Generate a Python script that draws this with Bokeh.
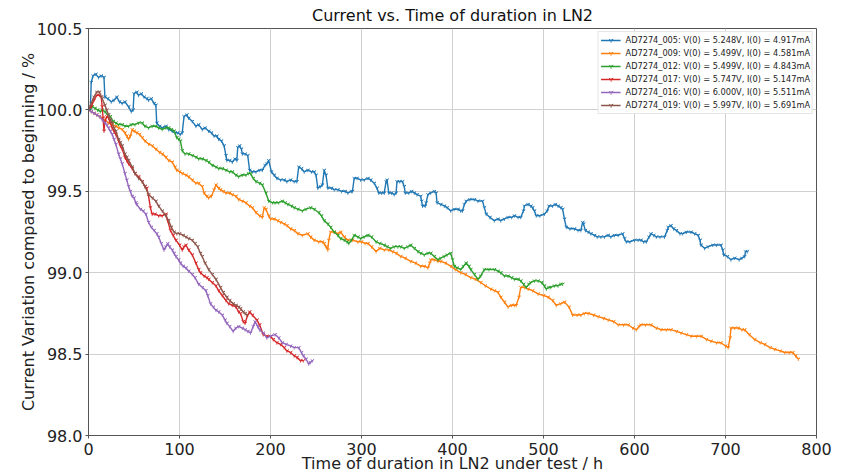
from bokeh.plotting import figure
from bokeh.models import Range1d, SingleIntervalTicker, NumeralTickFormatter, Legend
from bokeh.embed import file_html
from bokeh.resources import INLINE

labels = [
    "AD7274_005: V(0) = 5.248V, I(0) = 4.917mA",
    "AD7274_009: V(0) = 5.499V, I(0) = 4.581mA",
    "AD7274_012: V(0) = 5.499V, I(0) = 4.843mA",
    "AD7274_017: V(0) = 5.747V, I(0) = 5.147mA",
    "AD7274_016: V(0) = 6.000V, I(0) = 5.511mA",
    "AD7274_019: V(0) = 5.997V, I(0) = 5.691mA",
]
colors = ["#1f77b4", "#ff7f0e", "#2ca02c", "#d62728", "#9467bd", "#8c564b"]
title_text = "Current vs. Time of duration in LN2"
x_label_text = "Time of duration in LN2 under test / h"
y_label_text = "Current Variation compared to beginning / %"

t_005 = [0, 2, 3, 5, 8, 11, 14, 17, 18, 21, 25, 28, 31, 34, 37, 40, 44, 47, 49, 50, 53, 55, 58, 61, 64, 66, 69, 72, 74, 75, 78, 81, 85, 88, 92, 95, 98, 101, 103, 105, 108, 110, 114, 118, 121, 125, 128, 132, 135, 138, 141, 143, 146, 149, 151, 152, 155, 158, 161, 163, 164, 166, 168, 169, 172, 175, 177, 180, 184, 188, 191, 194, 196, 198, 201, 204, 207, 211, 215, 218, 222, 226, 229, 231, 234, 237, 241, 245, 248, 250, 252, 255, 257, 259, 261, 263, 267, 270, 274, 278, 282, 285, 289, 290, 292, 295, 299, 303, 307, 310, 314, 317, 319, 322, 325, 327, 328, 330, 333, 336, 338, 339, 342, 345, 347, 348, 352, 355, 358, 361, 365, 366, 367, 370, 371, 373, 376, 380, 382, 383, 387, 391, 394, 398, 402, 406, 409, 411, 413, 415, 419, 424, 428, 433, 435, 437, 441, 446, 450, 453, 457, 461, 465, 468, 472, 475, 478, 479, 483, 486, 488, 490, 492, 496, 501, 504, 506, 510, 513, 516, 519, 521, 523, 525, 529, 534, 538, 541, 543, 544, 546, 549, 552, 556, 559, 563, 567, 571, 574, 578, 582, 587, 589, 591, 595, 600, 604, 607, 610, 613, 616, 618, 621, 624, 628, 633, 636, 637, 640, 643, 646, 650, 653, 657, 662, 666, 670, 672, 673, 677, 681, 686, 690, 695, 697, 698, 702, 706, 710, 715, 718, 721, 722, 724]
v_005 = [100.00, 100.00, 100.17, 100.21, 100.22, 100.20, 100.21, 100.20, 100.08, 100.07, 100.05, 100.06, 100.08, 100.05, 100.04, 100.05, 100.02, 99.99, 100.00, 100.10, 100.11, 100.09, 100.10, 100.08, 100.07, 100.06, 100.07, 100.04, 100.03, 99.92, 99.90, 99.89, 99.90, 99.88, 99.87, 99.86, 99.86, 99.85, 99.86, 99.96, 99.97, 99.95, 99.93, 99.90, 99.91, 99.88, 99.89, 99.87, 99.86, 99.84, 99.84, 99.82, 99.81, 99.78, 99.72, 99.69, 99.69, 99.68, 99.70, 99.69, 99.77, 99.78, 99.76, 99.73, 99.73, 99.72, 99.63, 99.62, 99.62, 99.63, 99.63, 99.66, 99.67, 99.69, 99.62, 99.60, 99.58, 99.57, 99.57, 99.56, 99.57, 99.56, 99.56, 99.65, 99.64, 99.62, 99.63, 99.62, 99.62, 99.60, 99.52, 99.53, 99.54, 99.63, 99.60, 99.52, 99.52, 99.51, 99.51, 99.50, 99.50, 99.49, 99.50, 99.50, 99.58, 99.58, 99.57, 99.57, 99.58, 99.57, 99.55, 99.52, 99.49, 99.49, 99.49, 99.56, 99.57, 99.49, 99.49, 99.48, 99.49, 99.56, 99.56, 99.56, 99.53, 99.49, 99.49, 99.50, 99.49, 99.48, 99.47, 99.44, 99.41, 99.41, 99.43, 99.48, 99.49, 99.50, 99.49, 99.43, 99.42, 99.41, 99.40, 99.38, 99.39, 99.39, 99.38, 99.38, 99.42, 99.44, 99.45, 99.45, 99.44, 99.44, 99.40, 99.36, 99.34, 99.32, 99.33, 99.32, 99.33, 99.34, 99.34, 99.35, 99.34, 99.34, 99.38, 99.41, 99.42, 99.41, 99.40, 99.38, 99.35, 99.35, 99.36, 99.38, 99.41, 99.41, 99.42, 99.41, 99.40, 99.39, 99.33, 99.28, 99.27, 99.27, 99.26, 99.26, 99.31, 99.30, 99.26, 99.25, 99.24, 99.23, 99.22, 99.22, 99.22, 99.23, 99.22, 99.23, 99.23, 99.24, 99.21, 99.19, 99.19, 99.20, 99.20, 99.20, 99.19, 99.19, 99.22, 99.24, 99.23, 99.22, 99.22, 99.22, 99.26, 99.28, 99.29, 99.27, 99.26, 99.24, 99.24, 99.25, 99.25, 99.24, 99.23, 99.20, 99.17, 99.15, 99.16, 99.17, 99.17, 99.17, 99.14, 99.11, 99.10, 99.08, 99.09, 99.08, 99.09, 99.10, 99.13, 99.13]

t_009 = [0, 3, 6, 9, 12, 15, 18, 22, 26, 30, 33, 37, 40, 42, 44, 46, 48, 50, 53, 56, 59, 62, 66, 70, 74, 78, 81, 85, 88, 92, 95, 97, 100, 103, 107, 110, 114, 118, 121, 125, 127, 130, 132, 135, 138, 140, 143, 145, 148, 151, 155, 158, 162, 165, 169, 173, 177, 180, 184, 188, 191, 193, 195, 198, 200, 204, 208, 211, 215, 218, 222, 226, 230, 235, 241, 244, 248, 253, 257, 259, 261, 263, 264, 266, 270, 274, 277, 281, 285, 290, 296, 300, 304, 307, 311, 316, 320, 325, 330, 334, 338, 343, 348, 354, 359, 365, 369, 373, 375, 376, 380, 384, 387, 392, 398, 403, 409, 414, 420, 425, 431, 436, 442, 446, 450, 453, 457, 461, 465, 468, 470, 473, 475, 479, 483, 488, 494, 500, 505, 510, 514, 519, 523, 528, 532, 537, 541, 545, 549, 555, 560, 566, 571, 577, 582, 588, 593, 598, 602, 605, 607, 612, 618, 624, 629, 635, 640, 646, 651, 657, 662, 668, 673, 679, 684, 690, 695, 700, 703, 705, 706, 710, 714, 718, 721, 726, 732, 738, 743, 749, 754, 760, 765, 770, 774, 777, 780]
v_009 = [100.00, 99.99, 99.98, 99.97, 99.96, 99.95, 99.94, 99.92, 99.91, 99.90, 99.89, 99.88, 99.86, 99.84, 99.82, 99.84, 99.88, 99.87, 99.86, 99.85, 99.83, 99.81, 99.79, 99.78, 99.76, 99.74, 99.73, 99.71, 99.69, 99.68, 99.65, 99.63, 99.62, 99.61, 99.60, 99.59, 99.57, 99.55, 99.55, 99.53, 99.49, 99.47, 99.46, 99.47, 99.51, 99.54, 99.52, 99.51, 99.50, 99.49, 99.49, 99.48, 99.47, 99.45, 99.44, 99.43, 99.41, 99.40, 99.37, 99.35, 99.34, 99.40, 99.39, 99.35, 99.33, 99.33, 99.32, 99.31, 99.30, 99.29, 99.27, 99.26, 99.24, 99.23, 99.24, 99.22, 99.20, 99.19, 99.19, 99.18, 99.16, 99.14, 99.20, 99.25, 99.25, 99.24, 99.25, 99.22, 99.20, 99.20, 99.19, 99.19, 99.18, 99.18, 99.16, 99.13, 99.15, 99.14, 99.14, 99.13, 99.12, 99.10, 99.09, 99.07, 99.06, 99.04, 99.04, 99.03, 99.06, 99.08, 99.08, 99.07, 99.07, 99.06, 99.04, 99.02, 99.00, 98.99, 98.97, 98.96, 98.94, 98.92, 98.90, 98.89, 98.88, 98.85, 98.82, 98.79, 98.80, 98.80, 98.80, 98.85, 98.91, 98.91, 98.90, 98.89, 98.87, 98.86, 98.85, 98.83, 98.80, 98.81, 98.82, 98.79, 98.74, 98.74, 98.74, 98.75, 98.75, 98.74, 98.73, 98.72, 98.71, 98.70, 98.68, 98.68, 98.68, 98.66, 98.65, 98.67, 98.68, 98.68, 98.68, 98.66, 98.65, 98.65, 98.65, 98.64, 98.63, 98.62, 98.61, 98.61, 98.61, 98.59, 98.58, 98.57, 98.57, 98.55, 98.54, 98.60, 98.66, 98.66, 98.66, 98.65, 98.65, 98.62, 98.59, 98.57, 98.56, 98.54, 98.53, 98.52, 98.51, 98.51, 98.51, 98.49, 98.47]

t_012 = [0, 2, 4, 7, 10, 13, 15, 18, 21, 24, 27, 30, 33, 37, 40, 44, 47, 51, 55, 59, 62, 66, 70, 74, 77, 81, 85, 88, 91, 94, 97, 99, 101, 103, 106, 110, 114, 118, 121, 125, 129, 132, 136, 140, 143, 147, 151, 155, 158, 162, 165, 169, 173, 176, 178, 181, 184, 188, 191, 195, 198, 202, 205, 209, 213, 216, 219, 223, 226, 230, 235, 239, 244, 248, 253, 256, 259, 263, 266, 270, 274, 277, 281, 284, 286, 289, 292, 296, 299, 303, 307, 311, 316, 320, 325, 328, 332, 336, 340, 343, 347, 351, 354, 358, 362, 365, 369, 373, 376, 380, 384, 387, 391, 394, 398, 400, 402, 405, 409, 412, 415, 418, 420, 424, 428, 431, 435, 440, 446, 450, 453, 457, 461, 465, 468, 472, 475, 478, 481, 484, 486, 490, 494, 498, 501, 503, 506, 508, 512, 516, 519, 521]
v_012 = [100.00, 100.01, 100.02, 100.01, 100.00, 99.99, 100.00, 99.99, 99.97, 99.96, 99.93, 99.92, 99.91, 99.91, 99.90, 99.90, 99.91, 99.91, 99.92, 99.92, 99.90, 99.89, 99.90, 99.90, 99.89, 99.88, 99.89, 99.89, 99.88, 99.87, 99.83, 99.82, 99.81, 99.75, 99.73, 99.73, 99.72, 99.71, 99.70, 99.70, 99.69, 99.68, 99.66, 99.65, 99.64, 99.64, 99.63, 99.62, 99.62, 99.60, 99.59, 99.60, 99.60, 99.61, 99.61, 99.58, 99.56, 99.55, 99.54, 99.49, 99.44, 99.43, 99.43, 99.43, 99.44, 99.43, 99.42, 99.41, 99.40, 99.39, 99.38, 99.39, 99.40, 99.39, 99.37, 99.35, 99.32, 99.30, 99.28, 99.25, 99.23, 99.21, 99.20, 99.19, 99.18, 99.20, 99.23, 99.22, 99.21, 99.22, 99.23, 99.22, 99.19, 99.18, 99.17, 99.16, 99.15, 99.16, 99.16, 99.16, 99.15, 99.16, 99.17, 99.15, 99.13, 99.12, 99.11, 99.12, 99.12, 99.10, 99.08, 99.09, 99.10, 99.11, 99.12, 99.08, 99.04, 99.03, 99.02, 99.04, 99.06, 99.04, 99.02, 98.99, 98.96, 98.98, 99.02, 99.02, 99.02, 99.01, 99.00, 98.98, 98.98, 98.97, 98.96, 98.96, 98.95, 98.93, 98.91, 98.93, 98.94, 98.95, 98.95, 98.94, 98.92, 98.90, 98.91, 98.91, 98.92, 98.92, 98.93, 98.93]

t_017 = [0, 3, 6, 9, 12, 14, 15, 16, 17, 18, 20, 22, 24, 26, 28, 30, 33, 35, 37, 40, 42, 44, 48, 51, 55, 59, 62, 64, 66, 68, 70, 73, 77, 81, 85, 87, 90, 93, 96, 100, 103, 105, 107, 110, 114, 118, 121, 123, 127, 130, 132, 136, 140, 143, 147, 151, 154, 158, 162, 165, 167, 170, 172, 175, 177, 180, 185, 188, 192, 196, 200, 203, 207, 211, 215, 218, 222, 226, 229, 233, 236]
v_017 = [100.00, 100.02, 100.06, 100.09, 100.09, 100.08, 100.02, 99.95, 99.87, 99.93, 99.96, 99.95, 99.92, 99.89, 99.87, 99.85, 99.81, 99.78, 99.76, 99.71, 99.69, 99.67, 99.64, 99.61, 99.59, 99.56, 99.53, 99.52, 99.47, 99.40, 99.36, 99.36, 99.35, 99.35, 99.36, 99.32, 99.26, 99.23, 99.20, 99.17, 99.14, 99.16, 99.17, 99.14, 99.11, 99.06, 99.02, 99.00, 98.98, 98.97, 98.96, 98.94, 98.92, 98.89, 98.86, 98.83, 98.81, 98.80, 98.79, 98.76, 98.75, 98.70, 98.69, 98.74, 98.76, 98.74, 98.71, 98.68, 98.62, 98.61, 98.61, 98.59, 98.57, 98.56, 98.54, 98.52, 98.51, 98.49, 98.48, 98.46, 98.46]

t_016 = [0, 3, 6, 9, 12, 15, 18, 20, 22, 24, 26, 28, 30, 33, 35, 37, 40, 42, 44, 46, 48, 50, 52, 53, 57, 60, 63, 66, 69, 72, 75, 77, 80, 83, 85, 87, 89, 92, 94, 96, 99, 101, 104, 107, 110, 114, 117, 121, 125, 129, 131, 134, 137, 140, 143, 147, 150, 152, 155, 159, 162, 165, 169, 172, 175, 178, 181, 183, 186, 188, 192, 196, 200, 205, 209, 213, 217, 222, 226, 231, 234, 236, 239, 242, 244, 246]
v_016 = [100.00, 99.99, 99.98, 99.97, 99.96, 99.94, 99.92, 99.91, 99.89, 99.87, 99.85, 99.82, 99.79, 99.73, 99.70, 99.67, 99.61, 99.57, 99.53, 99.50, 99.47, 99.46, 99.43, 99.42, 99.39, 99.38, 99.36, 99.31, 99.28, 99.26, 99.24, 99.22, 99.18, 99.14, 99.16, 99.18, 99.16, 99.14, 99.12, 99.10, 99.08, 99.06, 99.04, 99.03, 99.01, 98.99, 98.97, 98.93, 98.91, 98.89, 98.86, 98.81, 98.79, 98.77, 98.76, 98.74, 98.71, 98.69, 98.67, 98.64, 98.66, 98.67, 98.66, 98.65, 98.64, 98.63, 98.67, 98.70, 98.67, 98.65, 98.63, 98.60, 98.61, 98.62, 98.60, 98.57, 98.56, 98.55, 98.54, 98.54, 98.51, 98.49, 98.47, 98.44, 98.45, 98.46]

t_019 = [0, 3, 6, 9, 12, 15, 18, 20, 22, 24, 26, 28, 30, 33, 35, 37, 40, 42, 44, 48, 51, 55, 59, 62, 66, 70, 74, 77, 81, 85, 88, 91, 94, 97, 100, 104, 107, 110, 114, 117, 120, 123, 125, 128, 132, 136, 140, 145, 148, 152, 155, 159, 162, 165, 167, 170, 172, 174]
v_019 = [100.00, 100.04, 100.08, 100.11, 100.11, 100.07, 100.03, 100.00, 99.97, 99.94, 99.92, 99.89, 99.87, 99.82, 99.80, 99.78, 99.73, 99.71, 99.69, 99.65, 99.61, 99.58, 99.56, 99.53, 99.48, 99.46, 99.44, 99.41, 99.38, 99.35, 99.32, 99.28, 99.25, 99.24, 99.24, 99.23, 99.22, 99.21, 99.20, 99.18, 99.16, 99.12, 99.10, 99.06, 99.02, 98.99, 98.96, 98.91, 98.88, 98.85, 98.83, 98.81, 98.80, 98.79, 98.78, 98.76, 98.75, 98.74]

series = [(t_005, v_005), (t_009, v_009), (t_012, v_012), (t_017, v_017), (t_016, v_016), (t_019, v_019)]

FONT = "DejaVu Sans"

p = figure(width=848, height=476, output_backend="svg", toolbar_location=None,
           x_range=Range1d(0, 800), y_range=Range1d(98.0, 100.5),
           title=title_text,
           min_border_left=88, min_border_right=32, min_border_top=27, min_border_bottom=41)

p.title.align = "center"
p.title.text_font = FONT
p.title.text_font_size = "16px"
p.title.text_font_style = "normal"
p.title.text_color = "#111111"
p.title.standoff = 7

p.xaxis.ticker = SingleIntervalTicker(interval=100)
p.yaxis.ticker = SingleIntervalTicker(interval=0.5)
p.yaxis.formatter = NumeralTickFormatter(format="0.0")
p.xaxis.axis_label = x_label_text
p.yaxis.axis_label = y_label_text
for ax in (p.xaxis[0], p.yaxis[0]):
    ax.axis_label_text_font = FONT
    ax.axis_label_text_font_size = "16px"
    ax.axis_label_text_font_style = "normal"
    ax.axis_label_text_color = "#222222"
    ax.major_label_text_font = FONT
    ax.major_label_text_font_size = "16px"
    ax.major_label_text_color = "#222222"
    ax.axis_line_color = "#555555"
    ax.major_tick_line_color = "#555555"
    ax.minor_tick_line_color = None
    ax.major_tick_out = 3
    ax.major_tick_in = 0
p.xaxis.major_label_standoff = 3
p.xaxis.axis_label_standoff = -4
p.yaxis.major_label_standoff = 2
p.yaxis.axis_label_standoff = -4

p.outline_line_color = "#555555"
p.outline_line_width = 1
p.xgrid.grid_line_color = "#d0d0d0"
p.ygrid.grid_line_color = "#d0d0d0"
p.xgrid.grid_line_width = 1
p.ygrid.grid_line_width = 1

items = []
for (t, v), c, lab in zip(series, colors, labels):
    r1 = p.line(t, v, line_color=c, line_width=1.4)
    r2 = p.scatter(t, v, marker="y", size=4, line_color=c, line_width=1, line_alpha=0.8)
    items.append((lab, [r1, r2]))

legend = Legend(items=items, location="top_right")
legend.label_text_font = FONT
legend.label_text_font_size = "8.2px"
legend.label_text_color = "#222222"
legend.glyph_width = 20
legend.glyph_height = 12
legend.label_height = 12
legend.spacing = 1
legend.padding = 2
legend.margin = 3
legend.border_line_color = "#cccccc"
legend.background_fill_alpha = 0.85
p.add_layout(legend, "center")

open("out.html", "w").write(file_html(p, INLINE))
